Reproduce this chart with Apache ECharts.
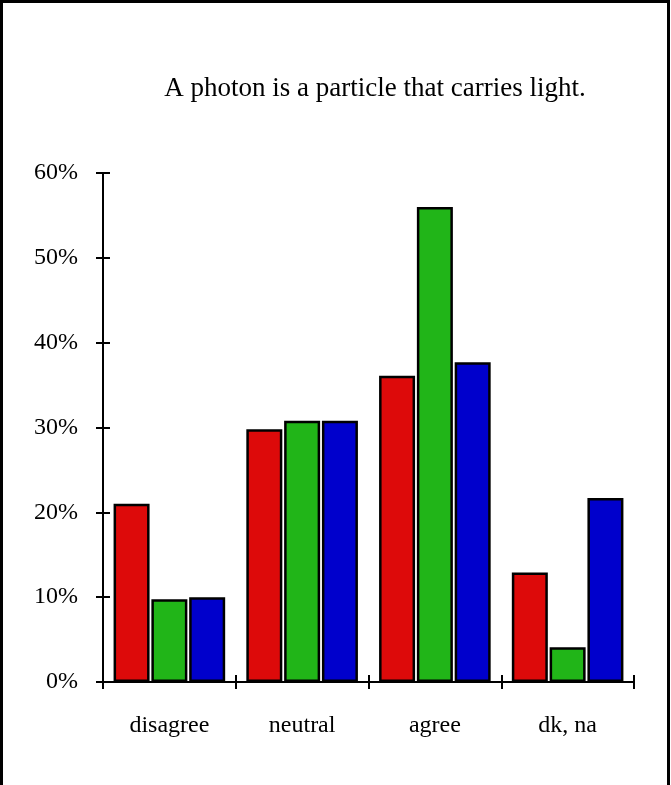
<!DOCTYPE html>
<html>
<head>
<meta charset="utf-8">
<script src="https://cdn.jsdelivr.net/npm/echarts@6/dist/echarts.min.js"></script>
<style>html,body{margin:0;padding:0;background:#fff}#c{width:671px;height:785px}</style>
</head>
<body>
<div id="c"></div>
<script>
const titleText = 'A photon is a particle that carries light.';
const categories = ['disagree', 'neutral', 'agree', 'dk, na'];
const seriesRed = [21.0, 29.8, 36.1, 12.9];
const seriesGreen = [9.75, 30.8, 56.0, 4.1];
const seriesBlue = [10.0, 30.8, 37.7, 21.7];
const yTicks = [0, 10, 20, 30, 40, 50, 60];

const font = '"Liberation Serif", "Times New Roman", serif';
const chart = echarts.init(document.getElementById('c'), null, {renderer: 'canvas'});
const mkBar = (name, data, color) => ({
  name, type: 'bar', data, barWidth: 36, barGap: '5%',
  itemStyle: {color, borderColor: '#000', borderWidth: 2.5},
  xAxisIndex: 0, yAxisIndex: 0
});
chart.setOption({
  animation: false,
  backgroundColor: '#fff',
  title: {
    text: titleText, left: 370, top: 70, textAlign: 'center',
    textStyle: {fontFamily: font, fontSize: 27, fontWeight: 'normal', color: '#000'}
  },
  graphic: [{
    type: 'rect', shape: {x: 1.5, y: 1.5, width: 667, height: 820},
    style: {fill: 'none', stroke: '#000', lineWidth: 3}, z: 100
  }],
  grid: {left: 103, right: 37, top: 173, bottom: 103},
  xAxis: [{
    type: 'category', data: categories, boundaryGap: true,
    axisLine: {lineStyle: {color: '#000', width: 2}},
    axisTick: {show: true, length: 7, lineStyle: {color: '#000', width: 2}, alignWithLabel: false},
    axisLabel: {fontFamily: font, fontSize: 24, color: '#000', margin: 32}
  }, {
    type: 'category', data: categories, boundaryGap: true, position: 'bottom',
    axisLine: {show: false},
    axisTick: {show: true, inside: true, length: 7, lineStyle: {color: '#000', width: 2}},
    axisLabel: {show: false}
  }],
  yAxis: [{
    type: 'value', min: 0, max: 60, interval: 10,
    splitLine: {show: false},
    axisLine: {show: true, lineStyle: {color: '#000', width: 2}},
    axisTick: {show: true, length: 7, lineStyle: {color: '#000', width: 2}},
    axisLabel: {fontFamily: font, fontSize: 24, color: '#000', margin: 25,
      formatter: v => yTicks.includes(v) ? v + '%' : ''}
  }, {
    type: 'value', min: 0, max: 60, interval: 10, position: 'left',
    splitLine: {show: false},
    axisLine: {show: false},
    axisTick: {show: true, inside: true, length: 7, lineStyle: {color: '#000', width: 2}},
    axisLabel: {show: false}
  }],
  series: [
    mkBar('red', seriesRed, 'rgb(221,10,10)'),
    mkBar('green', seriesGreen, 'rgb(33,181,24)'),
    mkBar('blue', seriesBlue, 'rgb(0,0,204)')
  ]
});
</script>
</body>
</html>
